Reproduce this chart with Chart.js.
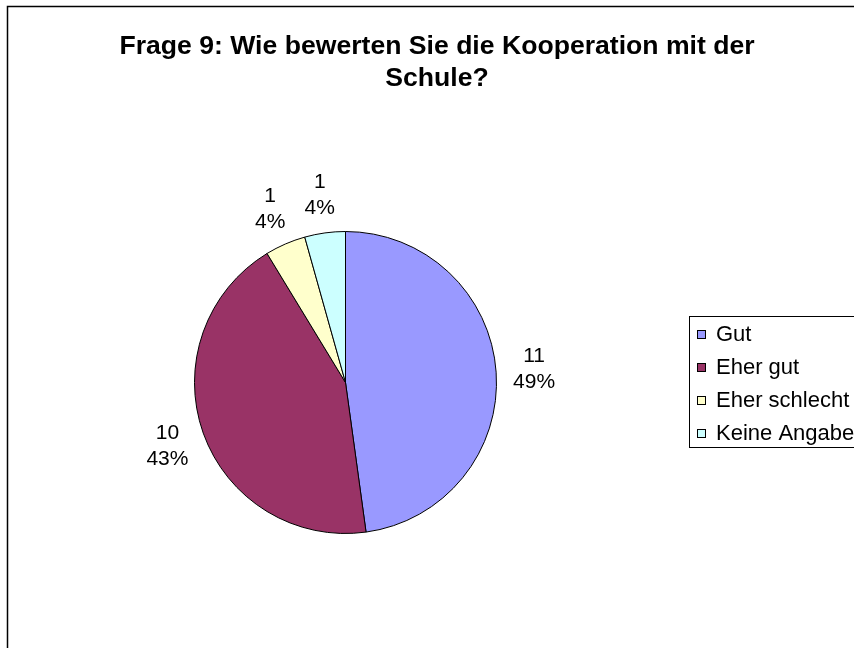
<!DOCTYPE html>
<html>
<head>
<meta charset="utf-8">
<script src="https://cdn.jsdelivr.net/npm/chart.js@4"></script>
<style>
html,body{margin:0;padding:0;background:#fff;}
canvas{display:block;}
</style>
</head>
<body>
<canvas id="c" width="854" height="648"></canvas>
<script>
const titleLines = ['Frage 9: Wie bewerten Sie die Kooperation mit der', 'Schule?'];
const categories = ['Gut', 'Eher gut', 'Eher schlecht', 'Keine Angabe'];
const values = [11, 10, 1, 1];
const percentLabels = ['49%', '43%', '4%', '4%'];
const colors = ['#9999FF', '#993366', '#FFFFCC', '#CCFFFF'];

const FONT = '"Liberation Sans", Arial, sans-serif';

const decor = {
  id: 'decor',
  afterDraw(chart) {
    const ctx = chart.ctx;
    ctx.save();
    // outer frame
    ctx.strokeStyle = '#000';
    ctx.lineWidth = 1.5;
    ctx.strokeRect(7.5, 6.5, 1000, 1000);
    // title
    ctx.fillStyle = '#000';
    ctx.font = 'bold 26.6px ' + FONT;
    ctx.textAlign = 'center';
    ctx.textBaseline = 'middle';
    ctx.fillText(titleLines[0], 437, 47);
    ctx.fillText(titleLines[1], 437, 79);
    // data labels
    const meta = chart.getDatasetMeta(0);
    ctx.font = '21px ' + FONT;
    meta.data.forEach((arc, i) => {
      const p = arc.getProps(['x', 'y', 'startAngle', 'endAngle', 'outerRadius'], true);
      const mid = (p.startAngle + p.endAngle) / 2;
      const d = p.outerRadius + 38;
      const lx = p.x + Math.cos(mid) * d;
      const ly = p.y + Math.sin(mid) * d;
      ctx.fillText(String(values[i]), lx, ly - 13);
      ctx.fillText(percentLabels[i], lx, ly + 13);
    });
    // legend
    ctx.lineWidth = 1;
    ctx.strokeStyle = '#000';
    ctx.strokeRect(689.5, 316.5, 300, 131);
    ctx.textAlign = 'left';
    ctx.font = '22px ' + FONT;
    categories.forEach((c, i) => {
      const cy = 334 + i * 33;
      ctx.fillStyle = colors[i];
      ctx.fillRect(697, cy - 4, 9, 9);
      ctx.strokeStyle = '#000';
      ctx.strokeRect(697.5, cy - 3.5, 8, 8);
      ctx.fillStyle = '#000';
      ctx.fillText(c, 716, cy + 1);
    });
    ctx.restore();
  }
};

new Chart(document.getElementById('c'), {
  type: 'pie',
  data: {
    labels: categories,
    datasets: [{
      data: values,
      backgroundColor: colors,
      borderColor: '#000',
      borderWidth: 1
    }]
  },
  options: {
    responsive: false,
    animation: false,
    layout: { padding: { left: 194, right: 357, top: 231, bottom: 114 } },
    plugins: {
      legend: { display: false },
      title: { display: false },
      tooltip: { enabled: false }
    }
  },
  plugins: [decor]
});
</script>
</body>
</html>
